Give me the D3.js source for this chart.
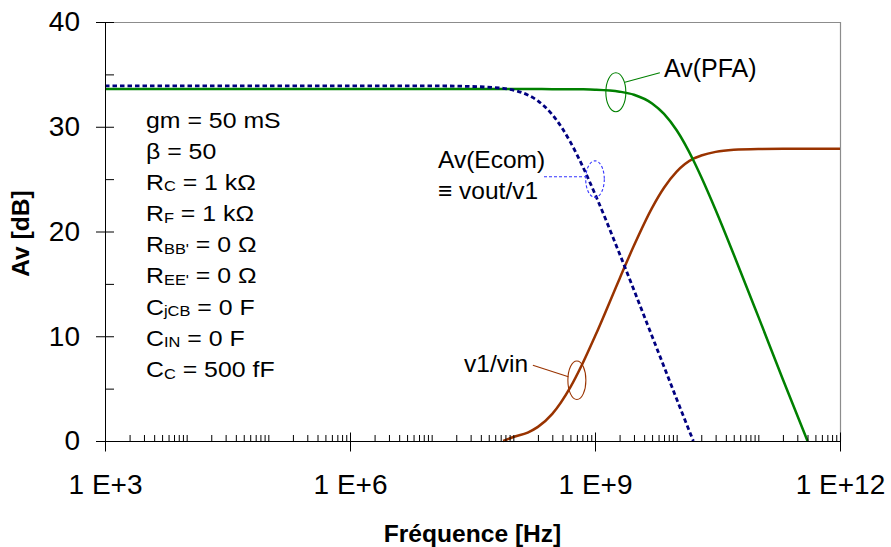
<!DOCTYPE html>
<html>
<head>
<meta charset="utf-8">
<script src="https://cdn.jsdelivr.net/npm/d3@7"></script>
<style>
  body { margin: 0; background: #fff; }
  text { font-family: "Liberation Sans", Arial, sans-serif; fill: #000; }
  .axis path, .axis line { stroke: #000; }
  .axis text { font-size: 28px; font-family: "Liberation Sans", Arial, sans-serif; fill: #000; }
</style>
</head>
<body>
<svg id="chart"></svg>
<script>
const freqs = [1e3, 1e6, 1e7, 2e7, 7.5e7, 1e8, 1.5e8, 2e8, 3e8, 5e8, 7e8, 1e9, 2e9, 3e9, 5e9, 7e9,
    1e10, 1.6e10, 2e10, 3e10, 5e10, 1e11, 2e11, 4e11, 1e12];

// Gains in dB (null = not drawn).
const avPfa = [33.6, 33.6, 33.6, 33.6, 33.6, 33.6, 33.6, 33.6, 33.59, 33.58, 33.57, 33.54, 33.35, 33.06, 32.23, 31.23,
    29.66, 26.8, 25.2, 22.05, 17.8, 11.87, 5.87, 0, null];
const avEcom = [33.9, 33.9, 33.9, 33.88, 33.67, 33.5, 33.04, 32.47, 31.16, 28.53, 26.28, 23.58, 17.87, 14.41, 10.0, 7.09,
    4.0, 0, null, null, null, null, null, null, null];
const v1Vin = [null, null, null, null, 0, 0.38, 0.81, 1.35, 2.59, 5.14, 7.35, 9.99, 15.5, 18.66, 22.26, 24.18,
    25.72, 26.96, 27.25, 27.6, 27.8, 27.88, 27.9, 27.9, 27.9];

// Axis ticks and labels.
const yTicks = [0, 10, 20, 30, 40];
const yMinorTicks = [5, 15, 25, 35];
const xMajorTicks = [1e3, 1e6, 1e9, 1e12];
const xTickLabels = ['1 E+3', '1 E+6', '1 E+9', '1 E+12'];

// Circuit parameters box: [text, isSubscript].
const paramLines = [
    [['gm = 50 mS']],
    [['β = 50']],
    [['R'], ['C', 1], [' = 1 kΩ']],
    [['R'], ['F', 1], [' = 1 kΩ']],
    [['R'], ["BB'", 1], [' = 0 Ω']],
    [['R'], ["EE'", 1], [' = 0 Ω']],
    [['C'], ['jCB', 1], [' = 0 F']],
    [['C'], ['IN', 1], [' = 0 F']],
    [['C'], ['C', 1], [' = 500 fF']],
];

const width = 891, height = 547;
const marginLeft = 105, marginRight = 51, marginTop = 22, marginBottom = 106;

const svg = d3.select('#chart').attr('width', width).attr('height', height);

// Scales.
const x = d3.scaleLog().domain([1e3, 1e12]).range([marginLeft, width - marginRight]);
const y = d3.scaleLinear().domain([0, 40]).range([height - marginBottom, marginTop]);

const x0 = marginLeft, x1 = width - marginRight;
const y0 = height - marginBottom, y1 = marginTop;

// Gray plot border (top + right).
svg.append('path')
    .attr('d', `M${x0 + 0.5},${y1 + 0.5}H${x1 + 0.5}V${y0 + 0.5}`)
    .attr('fill', 'none')
    .attr('stroke', '#8c8c8c')
    .attr('stroke-width', 1.2);

// Minor x ticks at n * 10^k.
const xMinorTicks = [];
for (let k = 3; k < 12; k++) {
    for (let n = 1; n <= 9; n++) {
        const v = n * Math.pow(10, k);
        if (!(n === 1 && k % 3 === 0)) xMinorTicks.push(v);
    }
}

// Series lines.
const series = [
    { values: v1Vin, color: '#993300', width: 2.5, dash: null },
    { values: avPfa, color: '#008000', width: 2.5, dash: null },
    { values: avEcom, color: '#000080', width: 2.8, dash: '4.5,3' },
];

const line = d3.line()
    .defined(d => d[1] !== null)
    .x(d => x(d[0]))
    .y(d => y(d[1]))
    .curve(d3.curveMonotoneX);

svg.append('g')
    .selectAll('path')
    .data(series)
    .enter()
    .append('path')
    .attr('fill', 'none')
    .attr('stroke', s => s.color)
    .attr('stroke-width', s => s.width)
    .attr('stroke-dasharray', s => s.dash)
    .attr('d', s => line(freqs.map((f, i) => [f, s.values[i]])));

// Y axis: outer major ticks with labels, inner major + minor ticks.
svg.append('g')
    .attr('class', 'axis')
    .attr('transform', `translate(${x0}, 0)`)
    .call(d3.axisLeft(y).tickValues(yTicks).tickSize(9).tickSizeOuter(0).tickPadding(16));

svg.append('g')
    .attr('class', 'axis')
    .attr('transform', `translate(${x0}, 0)`)
    .call(d3.axisRight(y).tickValues(yTicks.concat(yMinorTicks)).tickSize(9).tickFormat(''))
    .call(g => g.select('.domain').remove());

// X axis: majors cross the axis, minors point up.
svg.append('g')
    .attr('class', 'axis')
    .attr('transform', `translate(0, ${y0})`)
    .call(d3.axisBottom(x).tickValues(xMajorTicks).tickSize(10.5).tickSizeOuter(0).tickPadding(23)
        .tickFormat((d, i) => xTickLabels[i]));

svg.append('g')
    .attr('class', 'axis')
    .attr('transform', `translate(0, ${y0})`)
    .call(d3.axisTop(x).tickValues(xMajorTicks).tickSize(8.5).tickFormat(''))
    .call(g => g.select('.domain').remove());

svg.append('g')
    .attr('class', 'axis')
    .attr('transform', `translate(0, ${y0})`)
    .call(d3.axisTop(x).tickValues(xMinorTicks).tickSize(6).tickFormat(''))
    .call(g => g.select('.domain').remove());

// Axis titles.
svg.append('text')
    .attr('transform', `translate(${(x0 + x1) / 2}, 542) scale(1.07, 1)`)
    .attr('text-anchor', 'middle')
    .attr('font-weight', 'bold')
    .attr('font-size', 23)
    .text('Fréquence [Hz]');

svg.append('text')
    .attr('transform', `translate(28.5, ${(y0 + y1) / 2 + 2}) rotate(-90) scale(1.07, 1)`)
    .attr('text-anchor', 'middle')
    .attr('font-weight', 'bold')
    .attr('font-size', 23)
    .text('Av [dB]');

// Parameter block.
const params = svg.append('g')
    .attr('transform', 'translate(146, 127.5) scale(1.13, 1)');

params.selectAll('text')
    .data(paramLines)
    .enter()
    .append('text')
    .attr('y', (d, i) => i * 31.2)
    .attr('font-size', 22)
    .each(function (segs) {
        const t = d3.select(this);
        segs.forEach(([str, sub]) => {
            t.append('tspan')
                .attr('font-size', sub ? 14.5 : 22)
                .attr('dy', sub ? 1.5 : 0)
                .text(str);
        });
        // reset baseline after subscripts
        t.selectAll('tspan').filter((d, i, n) => i > 0 && segs[i - 1][1]).attr('dy', -1.5);
    });

// Curve callouts: ellipse on the curve, a leader line and a label.
const callouts = [
    { f: 1.8e9, db: 33.3, rx: 10, ry: 19.5, color: '#008000', dash: null,
      lead: [9, -10, 44, -19.4], lines: ['Av(PFA)'], tx: 664, ty: 76.7, size: 25 },
    { f: 1e9, db: 25.0, rx: 9.3, ry: 18.3, color: '#3333ff', dash: '3,2',
      lead: [-51, -2.4, -9.3, -2.4], lines: ['Av(Ecom)', '≡ vout/v1'], tx: 438, ty: 168.3, size: 24.5 },
    { f: 6e8, db: 5.8, rx: 9, ry: 19.3, color: '#993300', dash: null,
      lead: [-44, -15, -8.5, -3.5], lines: ['v1/vin'], tx: 464, ty: 372.3, size: 24.5 },
];

callouts.forEach(c => {
    const cx = x(c.f), cy = y(c.db);
    svg.append('ellipse')
        .attr('cx', cx).attr('cy', cy)
        .attr('rx', c.rx).attr('ry', c.ry)
        .attr('fill', 'none')
        .attr('stroke', c.color)
        .attr('stroke-width', 1.1)
        .attr('stroke-dasharray', c.dash);
    svg.append('line')
        .attr('x1', cx + c.lead[0]).attr('y1', cy + c.lead[1])
        .attr('x2', cx + c.lead[2]).attr('y2', cy + c.lead[3])
        .attr('stroke', c.color)
        .attr('stroke-width', 1.1)
        .attr('stroke-dasharray', c.dash);
    c.lines.forEach((str, i) => {
        svg.append('text')
            .attr('x', c.tx)
            .attr('y', c.ty + i * 31)
            .attr('font-size', c.size)
            .text(str);
    });
});
</script>
</body>
</html>
